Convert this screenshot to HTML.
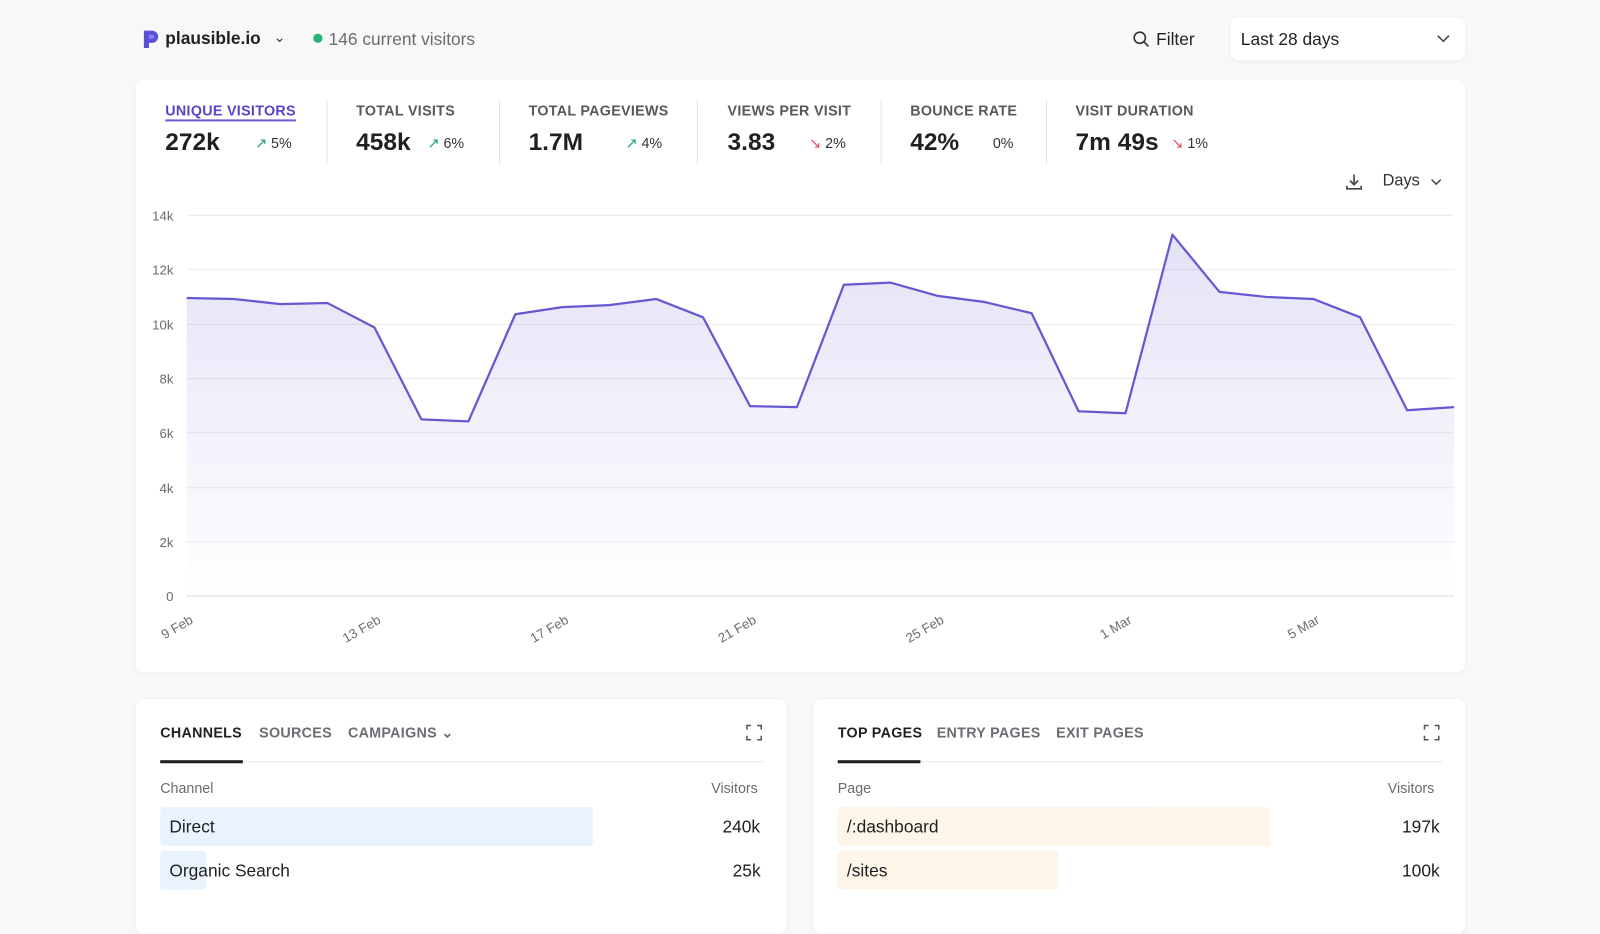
<!DOCTYPE html>
<html><head><meta charset="utf-8"><style>
*{box-sizing:border-box;margin:0;padding:0}
html,body{width:1600px;height:899px;overflow:hidden;background:#f8f8f9}
#w{position:absolute;left:0;top:0;width:1568px;height:881px;transform:scale(1.0204);transform-origin:0 0;font-family:"Liberation Sans",sans-serif;color:#1f2937}
.abs{position:absolute;white-space:nowrap}
.card{position:absolute;background:#fff;border-radius:8px;box-shadow:0 1px 3px rgba(0,0,0,.06)}
.lbl{font-size:14px;font-weight:bold;color:#57575e;letter-spacing:.3px}
.val{font-size:24px;font-weight:bold;color:#1f1f24}
.pct{font-size:14px;color:#333}
.sep{position:absolute;width:1px;background:#e3e3e6;top:98px;height:63px}
.tab{font-size:14px;font-weight:bold;color:#6b6b72;letter-spacing:.3px}
</style></head><body><div id="w">
<svg class="abs" style="left:139px;top:28px" width="18" height="20" viewBox="0 0 18 20"><path d="M2 2h8a6 6 0 0 1 0 12H7v5H2z" fill="#5b50d6"/><path d="M7 6h3a2 2 0 0 1 0 4H7z" fill="#8b82f0"/></svg>
<div class="abs" style="left:162px;top:28px;font-size:17px;font-weight:bold;color:#1f1f24">plausible.io</div>
<div class="abs" style="left:268px;top:28px;font-size:14px;color:#444">⌄</div>
<div class="abs" style="left:307px;top:33px;width:9px;height:9px;border-radius:50%;background:#22b573"></div>
<div class="abs" style="left:322px;top:29px;font-size:17px;color:#6b6b72">146 current visitors</div>
<svg class="abs" style="left:1110px;top:30px" width="17" height="17"><circle cx="7" cy="7" r="5.5" fill="none" stroke="#333" stroke-width="1.6"/><line x1="11" y1="11" x2="15.5" y2="15.5" stroke="#333" stroke-width="1.6"/></svg>
<div class="abs" style="left:1133px;top:29px;font-size:17px;color:#1f1f24">Filter</div>
<div class="card" style="left:1206px;top:17px;width:230px;height:42px"></div>
<div class="abs" style="left:1216px;top:29px;font-size:17px;color:#1f1f24">Last 28 days</div>
<svg class="abs" style="left:1408px;top:34px" width="13" height="8"><path d="M1 1l5.5 5.5L12 1" fill="none" stroke="#444" stroke-width="1.5"/></svg>

<div class="card" style="left:133px;top:78px;width:1303px;height:581px"></div>
<div class="abs lbl" style="left:162px;top:100px;color:#5546c9;border-bottom:2px solid #6a5fd0;padding-bottom:1px">UNIQUE VISITORS</div>
<div class="abs val" style="left:162px;top:126px">272k</div><div class="abs pct" style="left:250px;top:132px"><span style="color:#22a06b">↗</span> 5%</div>
<div class="sep" style="left:320px"></div>
<div class="abs lbl" style="left:349px;top:100px">TOTAL VISITS</div>
<div class="abs val" style="left:349px;top:126px">458k</div><div class="abs pct" style="left:419px;top:132px"><span style="color:#22a06b">↗</span> 6%</div>
<div class="sep" style="left:489px"></div>
<div class="abs lbl" style="left:518px;top:100px">TOTAL PAGEVIEWS</div>
<div class="abs val" style="left:518px;top:126px">1.7M</div><div class="abs pct" style="left:613px;top:132px"><span style="color:#22a06b">↗</span> 4%</div>
<div class="sep" style="left:683px"></div>
<div class="abs lbl" style="left:713px;top:100px">VIEWS PER VISIT</div>
<div class="abs val" style="left:713px;top:126px">3.83</div><div class="abs pct" style="left:793px;top:132px"><span style="color:#e0475b">↘</span> 2%</div>
<div class="sep" style="left:863px"></div>
<div class="abs lbl" style="left:892px;top:100px">BOUNCE RATE</div>
<div class="abs val" style="left:892px;top:126px">42%</div><div class="abs pct" style="left:973px;top:132px">0%</div>
<div class="sep" style="left:1025px"></div>
<div class="abs lbl" style="left:1054px;top:100px">VISIT DURATION</div>
<div class="abs val" style="left:1054px;top:126px">7m 49s</div><div class="abs pct" style="left:1148px;top:132px"><span style="color:#e0475b">↘</span> 1%</div>
<svg class="abs" style="left:1318px;top:169px" width="18" height="18"><path d="M9 2v10M5 8l4 4 4-4M2 13v3h14v-3" fill="none" stroke="#444" stroke-width="1.6"/></svg>
<div class="abs" style="left:1355px;top:169px;font-size:16px;color:#333">Days</div>
<svg class="abs" style="left:1402px;top:175px" width="11" height="7"><path d="M1 1l4.5 4.5L10 1" fill="none" stroke="#444" stroke-width="1.4"/></svg>

<svg class="abs" style="left:0;top:0" width="1568" height="660">
<defs><linearGradient id="g" x1="0" y1="0" x2="0" y2="1"><stop offset="0" stop-color="#6a5fd0" stop-opacity=".18"/><stop offset="1" stop-color="#6a5fd0" stop-opacity="0"/></linearGradient></defs>
<g stroke="#ececef" stroke-width="1">
<line x1="183" x2="1425" y1="211" y2="211"/><line x1="183" x2="1425" y1="264" y2="264"/><line x1="183" x2="1425" y1="318" y2="318"/><line x1="183" x2="1425" y1="371" y2="371"/><line x1="183" x2="1425" y1="424" y2="424"/><line x1="183" x2="1425" y1="478" y2="478"/><line x1="183" x2="1425" y1="531" y2="531"/></g>
<line x1="183" x2="1425" y1="584" y2="584" stroke="#d8d8dc"/>
<g font-size="13" fill="#6b6b72" text-anchor="end">
<text x="170" y="216">14k</text><text x="170" y="269">12k</text><text x="170" y="323">10k</text><text x="170" y="376">8k</text><text x="170" y="429">6k</text><text x="170" y="483">4k</text><text x="170" y="536">2k</text><text x="170" y="589">0</text></g>
<g font-size="13" fill="#6b6b72" text-anchor="end">
<text transform="translate(190,610) rotate(-30)">9 Feb</text><text transform="translate(374,610) rotate(-30)">13 Feb</text><text transform="translate(558,610) rotate(-30)">17 Feb</text><text transform="translate(742,610) rotate(-30)">21 Feb</text><text transform="translate(926,610) rotate(-30)">25 Feb</text><text transform="translate(1110,610) rotate(-30)">1 Mar</text><text transform="translate(1294,610) rotate(-30)">5 Mar</text></g>
<path d="M183 292 L229 293 275 298 321 297 367 321 413 411 459 413 505 308 551 301 597 299 643 293 689 311 735 398 781 399 827 279 873 277 919 290 965 296 1011 307 1057 403 1103 405 1149 230 1195 286 1241 291 1287 293 1333 311 1379 402 1425 399 L1425 584 L183 584Z" fill="url(#g)"/>
<path d="M183 292 L229 293 275 298 321 297 367 321 413 411 459 413 505 308 551 301 597 299 643 293 689 311 735 398 781 399 827 279 873 277 919 290 965 296 1011 307 1057 403 1103 405 1149 230 1195 286 1241 291 1287 293 1333 311 1379 402 1425 399" fill="none" stroke="#6459d0" stroke-width="2.2" stroke-linejoin="round"/>
</svg>

<div class="card" style="left:133px;top:685px;width:638px;height:230px"></div>
<div class="abs tab" style="left:157px;top:710px;color:#1f1f24">CHANNELS</div>
<div class="abs tab" style="left:254px;top:710px">SOURCES</div>
<div class="abs tab" style="left:341px;top:710px">CAMPAIGNS ⌄</div>
<div class="abs" style="left:157px;top:746px;width:592px;height:1px;background:#e6e6e9"></div>
<div class="abs" style="left:157px;top:745px;width:81px;height:3px;background:#1f1f24"></div>
<svg class="abs" style="left:731px;top:710px" width="16" height="16"><path d="M1 5V1h4M11 1h4v4M15 11v4h-4M5 15H1v-4" fill="none" stroke="#555" stroke-width="1.5"/></svg>
<div class="abs" style="left:157px;top:764px;font-size:14px;color:#6b6b72">Channel</div>
<div class="abs" style="left:697px;top:764px;font-size:14px;color:#6b6b72">Visitors</div>
<div class="abs" style="left:157px;top:791px;width:424px;height:38px;background:#e9f3fd;border-radius:3px"></div>
<div class="abs" style="left:166px;top:801px;font-size:17px;color:#1f1f24">Direct</div>
<div class="abs" style="left:708px;top:801px;font-size:17px;color:#1f1f24">240k</div>
<div class="abs" style="left:157px;top:834px;width:45px;height:38px;background:#e9f3fd;border-radius:3px"></div>
<div class="abs" style="left:166px;top:844px;font-size:17px;color:#1f1f24">Organic Search</div>
<div class="abs" style="left:718px;top:844px;font-size:17px;color:#1f1f24">25k</div>

<div class="card" style="left:797px;top:685px;width:639px;height:230px"></div>
<div class="abs tab" style="left:821px;top:710px;color:#1f1f24">TOP PAGES</div>
<div class="abs tab" style="left:918px;top:710px">ENTRY PAGES</div>
<div class="abs tab" style="left:1035px;top:710px">EXIT PAGES</div>
<div class="abs" style="left:821px;top:746px;width:592px;height:1px;background:#e6e6e9"></div>
<div class="abs" style="left:821px;top:745px;width:81px;height:3px;background:#1f1f24"></div>
<svg class="abs" style="left:1395px;top:710px" width="16" height="16"><path d="M1 5V1h4M11 1h4v4M15 11v4h-4M5 15H1v-4" fill="none" stroke="#555" stroke-width="1.5"/></svg>
<div class="abs" style="left:821px;top:764px;font-size:14px;color:#6b6b72">Page</div>
<div class="abs" style="left:1360px;top:764px;font-size:14px;color:#6b6b72">Visitors</div>
<div class="abs" style="left:821px;top:791px;width:424px;height:38px;background:#fdf6e8;border-radius:3px"></div>
<div class="abs" style="left:830px;top:801px;font-size:17px;color:#1f1f24">/:dashboard</div>
<div class="abs" style="left:1374px;top:801px;font-size:17px;color:#1f1f24">197k</div>
<div class="abs" style="left:821px;top:834px;width:216px;height:38px;background:#fdf6e8;border-radius:3px"></div>
<div class="abs" style="left:830px;top:844px;font-size:17px;color:#1f1f24">/sites</div>
<div class="abs" style="left:1374px;top:844px;font-size:17px;color:#1f1f24">100k</div>
</div></body></html>
